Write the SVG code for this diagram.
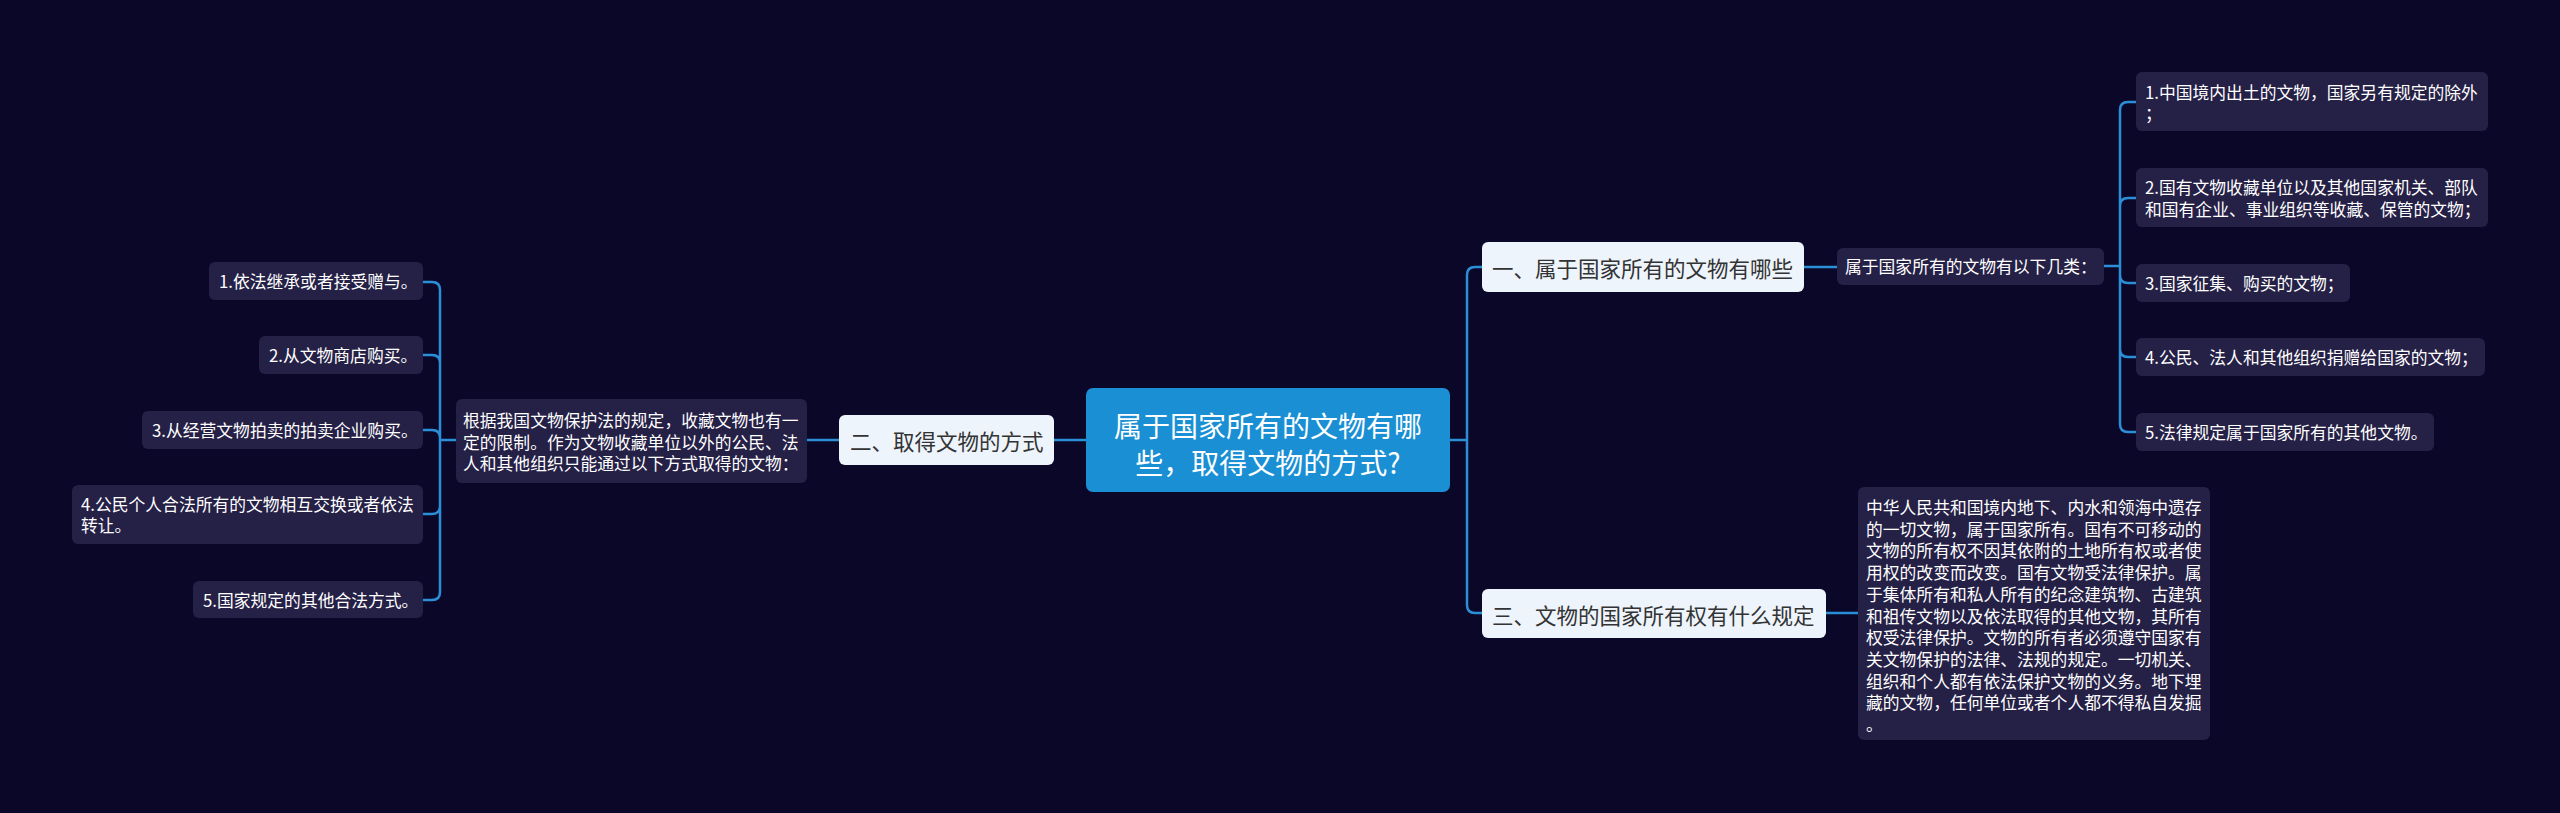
<svg xmlns="http://www.w3.org/2000/svg" width="2560" height="813" viewBox="0 0 2560 813">
<style>
text{font-family:"Noto Sans CJK SC","Microsoft YaHei",sans-serif;dominant-baseline:central}
.leaf{fill:#252046}
.lt{fill:#ffffff;font-size:16.8px}
.main{fill:#eef4fc}
.mt{fill:#333333;font-size:21.5px}
.ct{fill:#ffffff;font-size:28px}
.con{fill:none;stroke:#2b8fd8;stroke-width:2.5}
</style>
<rect width="2560" height="813" fill="#0b0729"/>
<g id="connectors">
<path class="con" d="M1450,440 H1467 M1467,440 V275 Q1467,267 1475,267 H1482 M1467,440 V605 Q1467,613 1475,613 H1482"/>
<path class="con" d="M1804,267 H1837 M2104,266 H2120"/>
<path class="con" d="M2120,266 V110 Q2120,102 2128,102 H2136 M2120,266 V206 Q2120,198 2128,198 H2136 M2120,266 V275 Q2120,283 2128,283 H2136 M2120,266 V349 Q2120,357 2128,357 H2136 M2120,266 V424 Q2120,432 2128,432 H2136"/>
<path class="con" d="M1826,613 H1858"/>
<path class="con" d="M1086,440 H1054 M839,440 H807 M456,440 H440"/>
<path class="con" d="M440,440 V290 Q440,282 432,282 H423 M440,440 V363 Q440,355 432,355 H423 M440,440 V438 Q440,430 432,430 H423 M440,440 V506 Q440,514 432,514 H423 M440,440 V592 Q440,600 432,600 H423"/>
</g>
<g id="center">
<rect x="1086" y="388" width="364" height="104" rx="7" fill="#1a8fd4"/>
<text class="ct" x="1268" y="425" text-anchor="middle">属于国家所有的文物有哪</text>
<text class="ct" x="1268" y="462" text-anchor="middle">些，取得文物的方式?</text>
</g>
<g id="n1">
<rect class="main" x="1482" y="242" width="322" height="50" rx="6"/>
<text class="mt" x="1492" y="267">一、属于国家所有的文物有哪些</text>
</g>
<g id="n1-sub">
<rect class="leaf" x="1837" y="248" width="267" height="37" rx="6"/>
<text class="lt" x="1845" y="266">属于国家所有的文物有以下几类：</text>
</g>
<g id="r1">
<rect class="leaf" x="2136" y="72" width="352" height="59" rx="6"/>
<text class="lt" x="2145" y="92">1.中国境内出土的文物，国家另有规定的除外</text>
<text class="lt" x="2145" y="113">；</text>
</g>
<g id="r2">
<rect class="leaf" x="2136" y="168" width="352" height="59" rx="6"/>
<text class="lt" x="2145" y="187">2.国有文物收藏单位以及其他国家机关、部队</text>
<text class="lt" x="2145" y="209">和国有企业、事业组织等收藏、保管的文物；</text>
</g>
<g id="r3">
<rect class="leaf" x="2136" y="264" width="214" height="38" rx="6"/>
<text class="lt" x="2145" y="283">3.国家征集、购买的文物；</text>
</g>
<g id="r4">
<rect class="leaf" x="2136" y="338" width="349" height="38" rx="6"/>
<text class="lt" x="2145" y="357">4.公民、法人和其他组织捐赠给国家的文物；</text>
</g>
<g id="r5">
<rect class="leaf" x="2136" y="413" width="298" height="38" rx="6"/>
<text class="lt" x="2145" y="432">5.法律规定属于国家所有的其他文物。</text>
</g>
<g id="n3">
<rect class="main" x="1482" y="589" width="344" height="49" rx="6"/>
<text class="mt" x="1492" y="614">三、文物的国家所有权有什么规定</text>
</g>
<g id="n3-sub">
<rect class="leaf" x="1858" y="487" width="352" height="253" rx="6"/>
<text class="lt" x="1866" y="507">中华人民共和国境内地下、内水和领海中遗存</text>
<text class="lt" x="1866" y="528.7">的一切文物，属于国家所有。国有不可移动的</text>
<text class="lt" x="1866" y="550.4">文物的所有权不因其依附的土地所有权或者使</text>
<text class="lt" x="1866" y="572.1">用权的改变而改变。国有文物受法律保护。属</text>
<text class="lt" x="1866" y="593.8">于集体所有和私人所有的纪念建筑物、古建筑</text>
<text class="lt" x="1866" y="615.5">和祖传文物以及依法取得的其他文物，其所有</text>
<text class="lt" x="1866" y="637.2">权受法律保护。文物的所有者必须遵守国家有</text>
<text class="lt" x="1866" y="658.9">关文物保护的法律、法规的规定。一切机关、</text>
<text class="lt" x="1866" y="680.6">组织和个人都有依法保护文物的义务。地下埋</text>
<text class="lt" x="1866" y="702.3">藏的文物，任何单位或者个人都不得私自发掘</text>
<text class="lt" x="1866" y="724">。</text>
</g>
<g id="n2">
<rect class="main" x="839" y="415" width="215" height="50" rx="6"/>
<text class="mt" x="850" y="440">二、取得文物的方式</text>
</g>
<g id="n2-sub">
<rect class="leaf" x="456" y="399" width="351" height="84" rx="6"/>
<text class="lt" x="463" y="420">根据我国文物保护法的规定，收藏文物也有一</text>
<text class="lt" x="463" y="441.5">定的限制。作为文物收藏单位以外的公民、法</text>
<text class="lt" x="463" y="463">人和其他组织只能通过以下方式取得的文物：</text>
</g>
<g id="l1">
<rect class="leaf" x="209" y="262" width="214" height="38" rx="6"/>
<text class="lt" x="219" y="281">1.依法继承或者接受赠与。</text>
</g>
<g id="l2">
<rect class="leaf" x="259" y="336" width="164" height="38" rx="6"/>
<text class="lt" x="269" y="355">2.从文物商店购买。</text>
</g>
<g id="l3">
<rect class="leaf" x="142" y="411" width="281" height="38" rx="6"/>
<text class="lt" x="152" y="430">3.从经营文物拍卖的拍卖企业购买。</text>
</g>
<g id="l4">
<rect class="leaf" x="72" y="485" width="351" height="59" rx="6"/>
<text class="lt" x="81" y="504">4.公民个人合法所有的文物相互交换或者依法</text>
<text class="lt" x="81" y="525">转让。</text>
</g>
<g id="l5">
<rect class="leaf" x="193" y="581" width="230" height="37" rx="6"/>
<text class="lt" x="203" y="600">5.国家规定的其他合法方式。</text>
</g>
</svg>
